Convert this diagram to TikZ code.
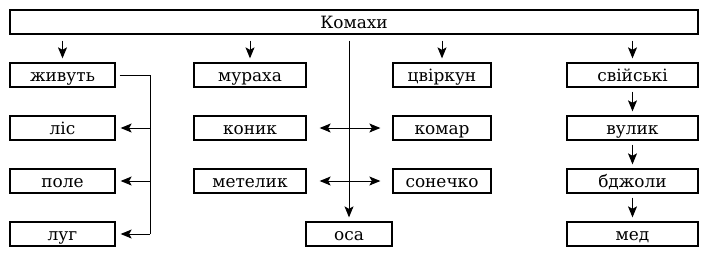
\documentclass[tikz,border=0pt]{standalone}
\usepackage{fontspec}
\setmainfont{DejaVu Serif}
\usetikzlibrary{arrows.meta}
\begin{document}
\begin{tikzpicture}[x=1bp,y=-1bp,
  box/.style={draw, line width=1.3bp, minimum height=24bp, inner sep=0pt, text height=12bp, text depth=0pt, font=\fontsize{17}{18}\selectfont},
  wbox/.style={box, minimum width=105bp},
  mbox/.style={box, minimum width=112bp},
  cbox/.style={box, minimum width=98bp},
  rbox/.style={box, minimum width=131bp},
  ln/.style={line width=1bp},
  arr/.style={ln, -{Stealth[length=11bp,width=9bp,inset=2.5bp]}}
]
\useasboundingbox (0,0) rectangle (714,255);
% top
\node[box, minimum width=688bp] (top) at (354,22) {Комахи};
% left column
\node[wbox] (zhyv) at (62.5,75) {живуть};
\node[wbox] (lis) at (62.5,128) {ліс};
\node[wbox] (pole) at (62.5,181) {поле};
\node[wbox] (luh) at (62.5,234) {луг};
% second column
\node[mbox] (mur) at (250,75) {мураха};
\node[mbox] (kon) at (250,128) {коник};
\node[mbox] (met) at (250,181) {метелик};
% center
\node[box, minimum width=86bp] (osa) at (349,234) {оса};
% third column
\node[cbox] (tsv) at (442,75) {цвіркун};
\node[cbox] (kom) at (442,128) {комар};
\node[cbox] (son) at (442,181) {сонечко};
% right column
\node[rbox] (svi) at (632.5,75) {свійські};
\node[rbox] (vul) at (632.5,128) {вулик};
\node[rbox] (bdzh) at (632.5,181) {бджоли};
\node[rbox] (med) at (632.5,234) {мед};
% arrows from top
\draw[arr, shorten <=6bp, shorten >=4bp] (top.south -| zhyv.north) -- (zhyv.north);
\draw[arr, shorten <=6bp, shorten >=4bp] (top.south -| mur.north) -- (mur.north);
\draw[arr, shorten <=6bp, shorten >=4bp] (top.south -| tsv.north) -- (tsv.north);
\draw[arr, shorten <=6bp, shorten >=4bp] (top.south -| svi.north) -- (svi.north);
% right column chain
\draw[arr, shorten <=4bp, shorten >=4bp] (svi) -- (vul);
\draw[arr, shorten <=4bp, shorten >=4bp] (vul) -- (bdzh);
\draw[arr, shorten <=4bp, shorten >=4bp] (bdzh) -- (med);
% central vertical
\draw[arr, shorten <=6bp, shorten >=4bp] (top.south -| osa.north) -- (osa.north);
\draw[arr, shorten >=13bp] (osa.north |- kon.east) -- (kon.east);
\draw[arr, shorten >=12bp] (osa.north |- kom.west) -- (kom.west);
\draw[arr, shorten >=13bp] (osa.north |- met.east) -- (met.east);
\draw[arr, shorten >=12bp] (osa.north |- son.west) -- (son.west);
% bracket
\coordinate (bk) at (150,75);
\draw[ln, shorten <=4bp] (zhyv.east) -- (bk) -- (bk |- luh.east);
\draw[arr, shorten >=5bp] (bk |- lis.east) -- (lis.east);
\draw[arr, shorten >=5bp] (bk |- pole.east) -- (pole.east);
\draw[arr, shorten >=5bp] (bk |- luh.east) -- (luh.east);
\end{tikzpicture}
\end{document}
